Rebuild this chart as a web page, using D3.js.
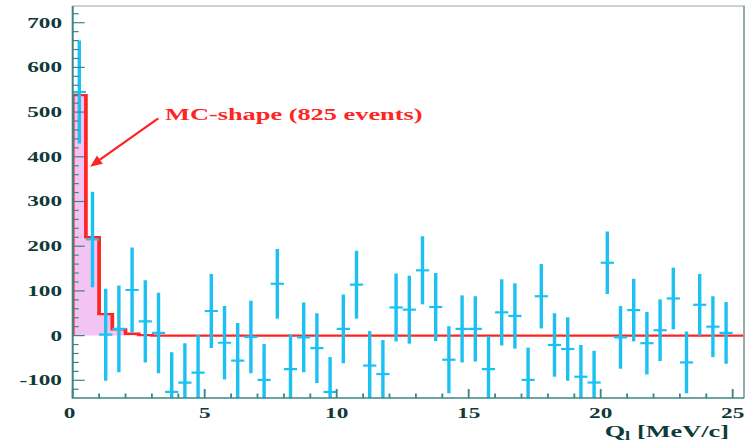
<!DOCTYPE html>
<html>
<head>
<meta charset="utf-8">
<script src="https://cdn.jsdelivr.net/npm/d3@7"></script>
<style>
  html, body { margin: 0; padding: 0; background: #fff; }
  svg { display: block; }
</style>
</head>
<body>
<svg id="chart"></svg>
<script>
// Background-subtracted Q_l spectrum: bin centres (MeV/c), contents and errors
const qCentres = [0.25, 0.75, 1.25, 1.75, 2.25, 2.75, 3.25, 3.75, 4.25, 4.75,
                  5.25, 5.75, 6.25, 6.75, 7.25, 7.75, 8.25, 8.75, 9.25, 9.75,
                  10.25, 10.75, 11.25, 11.75, 12.25, 12.75, 13.25, 13.75, 14.25, 14.75,
                  15.25, 15.75, 16.25, 16.75, 17.25, 17.75, 18.25, 18.75, 19.25, 19.75,
                  20.25, 20.75, 21.25, 21.75, 22.25, 22.75, 23.25, 23.75, 24.25, 24.75];
const counts = [545, 215, 2, 15, 102, 32, 6, -126, -105, -83,
                55, -16, -56, -3, -99, 116, -75, -4, -28, -126,
                15, 114, -67, -86, 63, 58, 146, 64, -54, 15,
                15, -75, 52, 44, -99, 88, -21, -30, -92, -105,
                163, -4, 57, -17, 12, 83, -60, 69, 20, 6];
const errors = [115, 107, 103, 97, 95, 92, 90, 89, 88, 85,
                83, 82, 84, 81, 80, 78, 78, 78, 78, 78,
                77, 76, 77, 76, 76, 76, 76, 76, 75, 75,
                73, 74, 74, 73, 72, 72, 71, 71, 71, 71,
                70, 70, 70, 70, 69, 69, 69, 69, 68, 69];
const binHalfWidth = 0.25;

// Monte Carlo shape: bin lower edges and contents
const mcEdges = [0, 0.5, 1.0, 1.5, 2.0, 2.5];
const mcCounts = [538, 220, 48, 14, 4, 1];

// Axis labels
const xTicks = [0, 5, 10, 15, 20, 25];
const yTicks = [-100, 0, 100, 200, 300, 400, 500, 600, 700];
const xTitleMain = "Q";
const xTitleSub = "l";
const xTitleRest = " [MeV/c]";
const mcLabel = "MC-shape (825 events)";

// ---------------------------------------------------------------------------
const W = 750, H = 441;
const SX = 1.55;              // horizontal stretch of the drawing
const VW = W / SX;
const px = v => v / SX;       // screen x -> user x

const svg = d3.select("#chart")
  .attr("width", W).attr("height", H)
  .attr("viewBox", `0 0 ${VW} ${H}`)
  .attr("preserveAspectRatio", "none");

const frame = { left: px(72.7), right: px(744), top: 6, bottom: 398 };

const x = d3.scaleLinear().domain([0, 25]).range([px(72.7), px(732.7)]);
const y = d3.scaleLinear().domain([0, 700]).range([335.6, 22.7]);
const xMax = x.invert(frame.right);
const yMin = y.invert(frame.bottom);
const yMax = y.invert(frame.top);

const RED = "#ff2424";
const BLUE = "#1cc1f2";
const FILL = "#f3c4f3";
const AXIS = "#3f8585";
const LABEL = "#0f3a3a";
const FONT = "'Liberation Serif', 'Times New Roman', serif";

svg.append("defs").append("clipPath").attr("id", "plotClip")
  .append("rect")
  .attr("x", frame.left).attr("y", frame.top)
  .attr("width", frame.right - frame.left)
  .attr("height", frame.bottom - frame.top);

const plot = svg.append("g").attr("clip-path", "url(#plotClip)");

// MC histogram: fill and outline
const mcPts = [{ q: 0, v: 0 }];
mcEdges.forEach((e, i) => mcPts.push({ q: e, v: mcCounts[i] }));
mcPts.push({ q: mcEdges[mcEdges.length - 1] + 0.5, v: 0 });
mcPts.push({ q: xMax, v: 0 });

const area = d3.area().curve(d3.curveStepAfter)
  .x(d => x(d.q)).y0(y(0)).y1(d => y(d.v));
plot.append("path").datum(mcPts).attr("d", area).attr("fill", FILL);

const line = d3.line().curve(d3.curveStepAfter)
  .x(d => x(d.q)).y(d => y(d.v));
plot.append("path").datum(mcPts).attr("d", line)
  .attr("fill", "none").attr("stroke", RED).attr("stroke-width", 2.4);

// Data points with error bars
const pts = qCentres.map((q, i) => ({ q, v: counts[i], e: errors[i] }));
const eb = plot.append("g").attr("stroke", BLUE).attr("stroke-width", 2.2);
eb.selectAll("line.v").data(pts).join("line").attr("class", "v")
  .attr("x1", d => x(d.q)).attr("x2", d => x(d.q))
  .attr("y1", d => y(d.v - d.e)).attr("y2", d => y(d.v + d.e));
eb.selectAll("line.h").data(pts).join("line").attr("class", "h")
  .attr("x1", d => x(d.q - binHalfWidth)).attr("x2", d => x(d.q + binHalfWidth))
  .attr("y1", d => y(d.v)).attr("y2", d => y(d.v));

// Frame
svg.append("path")
  .attr("d", `M${frame.left},${frame.top}H${frame.right}V${frame.bottom}`)
  .attr("fill", "none").attr("stroke", "#8fa6a6").attr("stroke-width", 1.2);
svg.append("path")
  .attr("d", `M${frame.left},${frame.top}V${frame.bottom}H${frame.right}`)
  .attr("fill", "none").attr("stroke", AXIS).attr("stroke-width", 1.3);

// Y ticks: major every 100, minor every 20
const yMinor = d3.range(Math.ceil(yMin / 20) * 20, yMax, 20);
svg.append("g").selectAll("line").data(yMinor).join("line")
  .attr("x1", frame.left)
  .attr("x2", d => frame.left + px(d % 100 === 0 ? 12 : 6))
  .attr("y1", d => y(d)).attr("y2", d => y(d))
  .attr("stroke", AXIS).attr("stroke-width", 1.2);

// X ticks: major every 5, minor every 1
const xMinor = d3.range(0, xMax, 1);
svg.append("g").selectAll("line").data(xMinor).join("line")
  .attr("x1", d => x(d)).attr("x2", d => x(d))
  .attr("y1", frame.bottom)
  .attr("y2", d => frame.bottom - (d % 5 === 0 ? 9 : 4.5))
  .attr("stroke", AXIS).attr("stroke-width", 1.2);

// Tick labels
svg.append("g").selectAll("text").data(yTicks).join("text")
  .attr("x", px(62)).attr("y", d => y(d) + 5)
  .attr("text-anchor", "end")
  .attr("font-family", FONT).attr("font-weight", "bold").attr("font-size", 15)
  .attr("fill", LABEL)
  .text(d => d);

svg.append("g").selectAll("text").data(xTicks).join("text")
  .attr("x", d => x(d) - px(d === 0 ? 3 : 0)).attr("y", 418)
  .attr("text-anchor", "middle")
  .attr("font-family", FONT).attr("font-weight", "bold").attr("font-size", 15)
  .attr("fill", LABEL)
  .text(d => d);

// Axis title
const title = svg.append("text")
  .attr("x", px(729)).attr("y", 437)
  .attr("text-anchor", "end")
  .attr("font-family", FONT).attr("font-weight", "bold").attr("font-size", 17)
  .attr("fill", LABEL);
title.append("tspan").text(xTitleMain);
title.append("tspan").attr("font-size", 12).attr("dy", 3).text(xTitleSub);
title.append("tspan").attr("dy", -3).text(xTitleRest);

// Annotation with arrow
svg.append("text")
  .attr("x", x(3.5)).attr("y", y(482))
  .attr("font-family", FONT).attr("font-weight", "bold").attr("font-size", 17)
  .attr("fill", RED)
  .text(mcLabel);

const tail = [x(3.24) * SX, y(486)];
const tip = [x(0.66) * SX, y(378)];
const dx = tip[0] - tail[0], dy = tip[1] - tail[1];
const len = Math.hypot(dx, dy);
const ux = dx / len, uy = dy / len;
const headL = 12, headW = 5;
const base = [tip[0] - ux * headL, tip[1] - uy * headL];
svg.append("line")
  .attr("x1", px(tail[0])).attr("y1", tail[1])
  .attr("x2", px(base[0])).attr("y2", base[1])
  .attr("stroke", RED).attr("stroke-width", 1.8);
svg.append("polygon")
  .attr("points", [
    [px(tip[0]), tip[1]],
    [px(base[0] - uy * headW), base[1] + ux * headW],
    [px(base[0] + uy * headW), base[1] - ux * headW]
  ].map(p => p.join(",")).join(" "))
  .attr("fill", RED);
</script>
</body>
</html>
